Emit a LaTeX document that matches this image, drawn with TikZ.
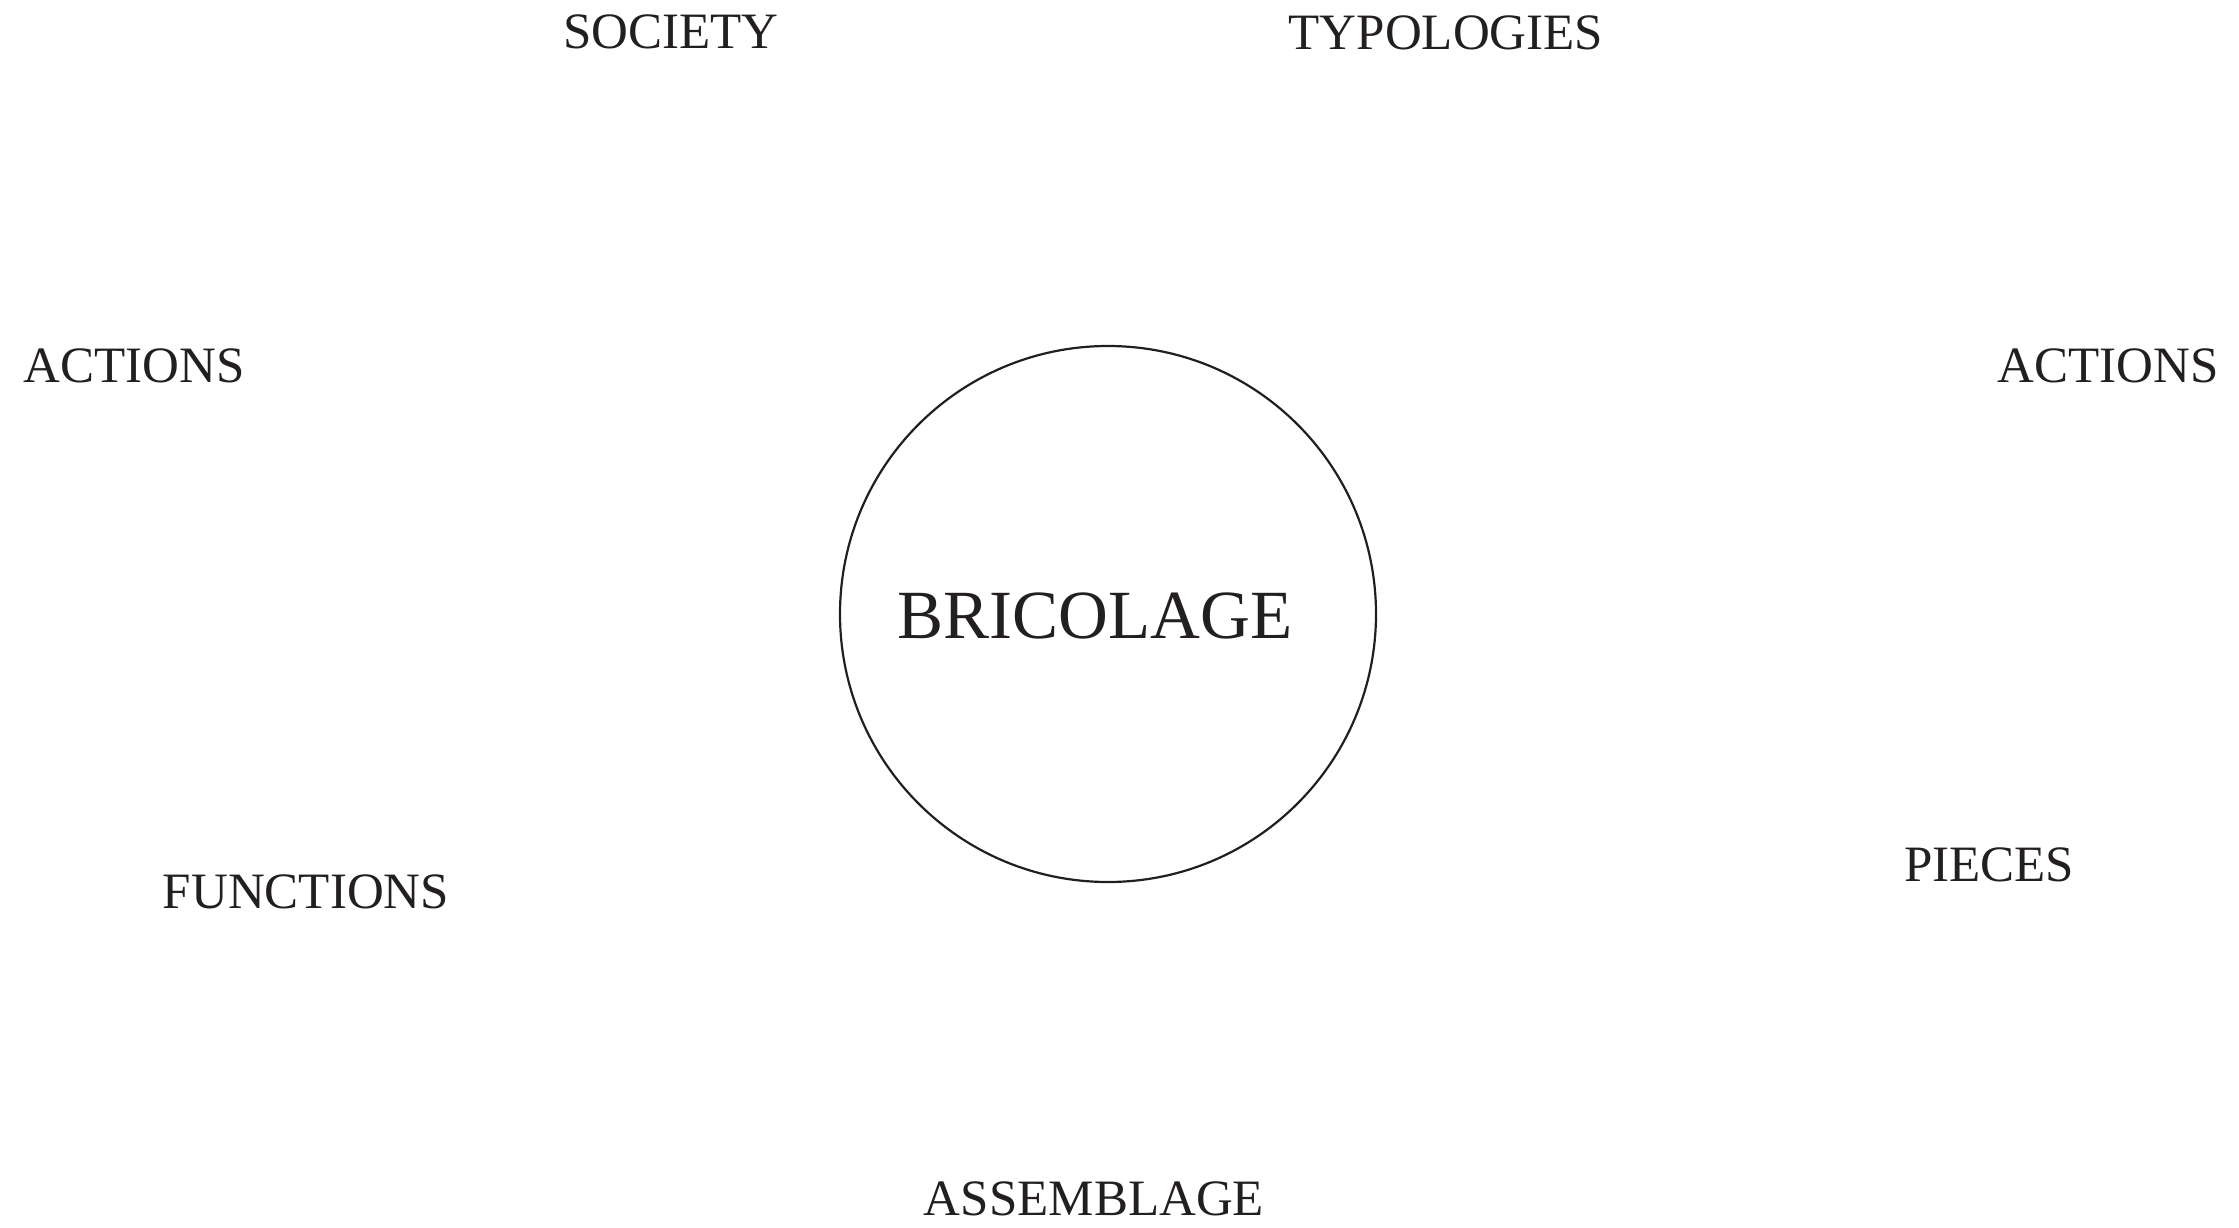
\documentclass[tikz,border=0pt]{standalone}
\usepackage{fontspec}
\setmainfont{Liberation Serif}
\definecolor{ink}{HTML}{231F20}
\begin{document}
\begin{tikzpicture}[x=1pt,y=-1pt,
  lab/.style={inner sep=0pt,text=ink,font=\fontsize{51}{51}\selectfont},
  big/.style={inner sep=0pt,text=ink,font=\fontsize{69}{69}\selectfont}]
\useasboundingbox (0,0) rectangle (2239,1228);
\node[circle,draw=ink,line width=2.2pt,minimum size=536pt,inner sep=0pt] (ring) at (1108,614) {};
\node[big] (bricolage) at (1095,616) {BRICOLAGE};
\node[lab] (society) at (671,32) {SOCIETY};
\node[lab] (typologies) at (1446,33) {TYPOLOGIES};
\node[lab] (actionsL) at (134,366) {ACTIONS};
\node[lab] (actionsR) at (2108,366) {ACTIONS};
\node[lab] (functions) at (306,892) {FUNCTIONS};
\node[lab] (pieces) at (1989,865) {PIECES};
\node[lab] (assemblage) at (1094,1199) {ASSEMBLAGE};
\end{tikzpicture}
\end{document}
